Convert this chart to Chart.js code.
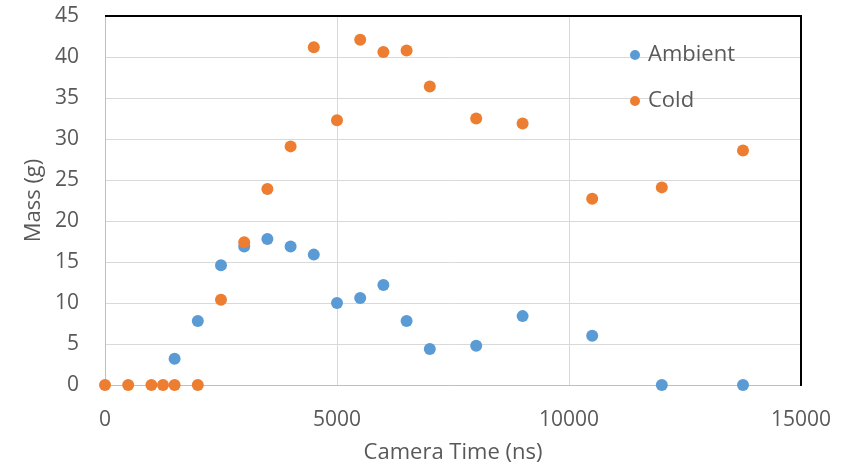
<!DOCTYPE html>
<html>
<head>
<meta charset="utf-8">
<script src="https://cdn.jsdelivr.net/npm/chart.js@4.4.0/dist/chart.umd.min.js"></script>
<style>
  body { margin: 0; background: #ffffff; }
  #wrap { width: 857px; height: 470px; }
</style>
</head>
<body>
<div id="wrap"><canvas id="scatter-chart"></canvas></div>
<script>
// DATI ----------------------------------------
var ambientTime = [1500, 2000, 2500, 3000, 3500, 4000, 4500, 5000, 5500, 6000, 6500, 7000, 8000, 9000, 10500, 12000, 13750];
var ambientMass = [3.2, 7.8, 14.6, 16.9, 17.8, 16.9, 15.9, 10.0, 10.6, 12.2, 7.8, 4.4, 4.8, 8.4, 6.0, 0, 0];
var coldTime = [0, 500, 1000, 1250, 1500, 2000, 2500, 3000, 3500, 4000, 4500, 5000, 5500, 6000, 6500, 7000, 8000, 9000, 10500, 12000, 13750];
var coldMass = [0, 0, 0, 0, 0, 0, 10.4, 17.4, 23.9, 29.1, 41.2, 32.3, 42.1, 40.6, 40.8, 36.4, 32.5, 31.9, 22.7, 24.1, 28.6];
var xTicks = [0, 5000, 10000, 15000];
var yTicks = [0, 5, 10, 15, 20, 25, 30, 35, 40, 45];

function toPoints(xs, ys){
  var pts = [];
  for (var i = 0; i < xs.length; i++) {
    pts.push({x: xs[i], y: ys[i]});
  }
  return pts;
}

var grey = '#595959';
var font = "'Open Sans', sans-serif";

// bordo nero sopra e a destra + legenda dentro il grafico
var extras = {
  id: 'extras',
  afterDatasetsDraw: function(chart){
    var c = chart.ctx;
    var a = chart.chartArea;
    c.save();
    c.strokeStyle = '#000000';
    c.lineWidth = 2;
    c.beginPath();
    c.moveTo(a.left, a.top);
    c.lineTo(a.right, a.top);
    c.lineTo(a.right, a.bottom + 1);
    c.stroke();

    var ds = chart.data.datasets;
    var lx = 635, ly = 55;
    c.font = '22px ' + font;
    c.textBaseline = 'middle';
    for (var i = 0; i < ds.length; i++) {
      c.fillStyle = ds[i].backgroundColor;
      c.beginPath();
      c.arc(lx, ly + i * 46, 5, 0, Math.PI * 2);
      c.fill();
      c.fillStyle = grey;
      c.fillText(ds[i].label, lx + 13, ly + i * 46);
    }
    c.restore();
  }
};

var ctx = document.getElementById('scatter-chart');
var chart = new Chart(ctx, {
  type: 'scatter',
  data: {
    datasets: [{
      label: 'Ambient',
      data: toPoints(ambientTime, ambientMass),
      backgroundColor: '#5B9BD5',
      borderColor: '#5B9BD5',
      pointRadius: 6,
      borderWidth: 0,
      clip: false,
      order: 1
    }, {
      label: 'Cold',
      data: toPoints(coldTime, coldMass),
      backgroundColor: '#ED7D31',
      borderColor: '#ED7D31',
      pointRadius: 6,
      borderWidth: 0,
      clip: false,
      order: 0
    }]
  },
  options: {
    responsive: true,
    maintainAspectRatio: false,
    animation: false,
    layout: { padding: { top: 16, right: 56, left: 0, bottom: 0 } },
    plugins: {
      legend: { display: false },
      tooltip: { enabled: false }
    },
    scales: {
      x: {
        type: 'linear',
        min: 0,
        max: 15000,
        afterFit: function(scale){
          scale.height = 85;
          scale.paddingLeft = 0;
          scale.paddingRight = 0;
        },
        afterBuildTicks: function(scale){
          scale.ticks = xTicks.map(function(v){ return {value: v}; });
        },
        grid: { color: '#d9d9d9', drawTicks: false },
        border: { color: '#bfbfbf', width: 1 },
        ticks: {
          padding: 22,
          color: grey,
          font: { family: font, size: 21 },
          maxRotation: 0,
          callback: function(v){ return String(v); }
        },
        title: {
          display: true,
          text: 'Camera Time (ns)',
          color: grey,
          font: { family: font, size: 22 },
          padding: { top: 0, bottom: 4 }
        }
      },
      y: {
        min: 0,
        max: 45,
        afterFit: function(scale){
          scale.width = 105;
          scale.paddingTop = 0;
          scale.paddingBottom = 0;
        },
        afterBuildTicks: function(scale){
          scale.ticks = yTicks.map(function(v){ return {value: v}; });
        },
        grid: { color: '#d9d9d9', drawTicks: false },
        border: { color: '#bfbfbf', width: 1 },
        ticks: {
          padding: 26,
          color: grey,
          font: { family: font, size: 21 }
        },
        title: {
          display: true,
          text: 'Mass (g)',
          color: grey,
          font: { family: font, size: 22 },
          padding: { top: 21, bottom: 0 }
        }
      }
    }
  },
  plugins: [extras]
});
</script>
</body>
</html>
